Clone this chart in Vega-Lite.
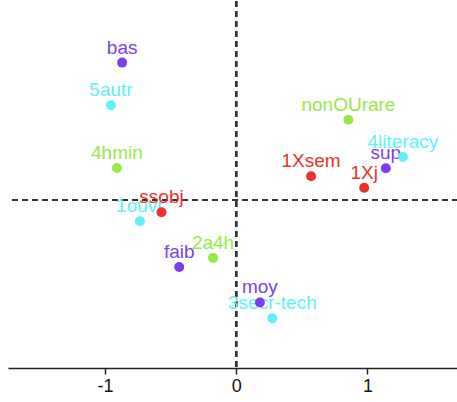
{
  "$schema": "https://vega.github.io/schema/vega-lite/v6.json",
  "width": 450,
  "height": 367,
  "padding": {"left": 7, "top": 0, "right": 0, "bottom": 0},
  "background": "white",
  "config": {"view": {"stroke": null}},
  "data": {
    "values": [
      {"label": "bas", "grp": "a", "x": -0.87, "y": 1.05},
      {"label": "faib", "grp": "a", "x": -0.435, "y": -0.51},
      {"label": "moy", "grp": "a", "x": 0.18, "y": -0.78},
      {"label": "sup", "grp": "a", "x": 1.14, "y": 0.244},
      {"label": "5autr", "grp": "b", "x": -0.955, "y": 0.725},
      {"label": "1ouvr", "grp": "b", "x": -0.735, "y": -0.16},
      {"label": "3secr-tech", "grp": "b", "x": 0.275, "y": -0.9},
      {"label": "4literacy", "grp": "b", "x": 1.27, "y": 0.33},
      {"label": "4hmin", "grp": "c", "x": -0.91, "y": 0.246},
      {"label": "2a4h", "grp": "c", "x": -0.177, "y": -0.44},
      {"label": "nonOUrare", "grp": "c", "x": 0.855, "y": 0.614},
      {"label": "ssobj", "grp": "d", "x": -0.57, "y": -0.092},
      {"label": "1Xsem", "grp": "d", "x": 0.57, "y": 0.183},
      {"label": "1Xj", "grp": "d", "x": 0.975, "y": 0.095}
    ]
  },
  "encoding": {
    "x": {
      "field": "x", "type": "quantitative",
      "scale": {"domain": [-1.74, 1.69], "nice": false, "zero": false},
      "axis": {
        "title": null, "values": [-1, 0, 1], "grid": false,
        "labelExpr": "datum.value < 0 ? '-' + abs(datum.value) : '' + datum.value",
        "domainColor": "#222", "domainWidth": 1.5,
        "tickColor": "#222", "tickWidth": 1.5, "tickSize": 6,
        "labelFont": "Liberation Sans", "labelFontSize": 18, "labelColor": "#111",
        "labelPadding": 3, "labelFlush": false
      }
    },
    "y": {
      "field": "y", "type": "quantitative",
      "scale": {"domain": [-1.28, 1.52], "nice": false, "zero": false},
      "axis": null
    },
    "color": {
      "field": "grp", "type": "nominal",
      "scale": {"domain": ["a", "b", "c", "d"], "range": ["#7b3ff0", "#62f0f7", "#98e84a", "#e8322e"]},
      "legend": null
    }
  },
  "layer": [
    {
      "mark": {"type": "rule", "strokeDash": [6, 4], "color": "#333", "strokeWidth": 1.6},
      "encoding": {"x": {"datum": 0, "type": "quantitative"}, "y": null, "color": null}
    },
    {
      "mark": {"type": "rule", "strokeDash": [6, 4], "color": "#333", "strokeWidth": 1.6},
      "encoding": {"y": {"datum": 0, "type": "quantitative"}, "x": null, "color": null}
    },
    {
      "mark": {"type": "text", "font": "Liberation Sans", "fontSize": 19, "baseline": "alphabetic", "align": "center", "dy": -9},
      "encoding": {"text": {"field": "label"}}
    },
    {
      "mark": {"type": "circle", "size": 100, "opacity": 1}
    }
  ]
}
